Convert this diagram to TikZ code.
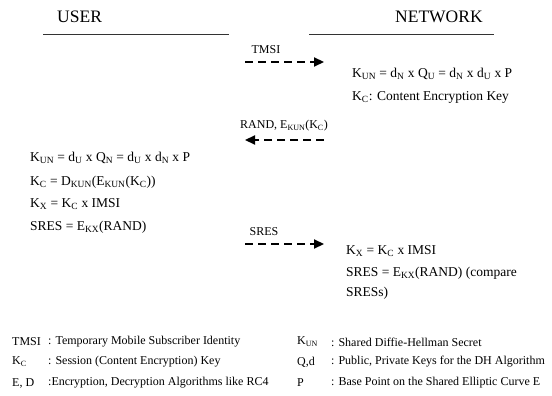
\documentclass[tikz,border=0pt]{standalone}
\usepackage{fontspec}
\setmainfont{Liberation Serif}
\usetikzlibrary{arrows.meta}
\newcommand{\sbs}[1]{\textsubscript{#1}}
\begin{document}
\begin{tikzpicture}[x=1pt,y=-1pt,
  hdr/.style={font=\fontsize{17.5}{20}\selectfont, anchor=west, inner sep=0pt},
  txt/.style={font=\fontsize{13.5}{16}\selectfont, anchor=west, inner sep=0pt},
  lbl/.style={font=\fontsize{12}{14}\selectfont, inner sep=0pt},
  leg/.style={font=\fontsize{12}{14}\selectfont, anchor=west, inner sep=0pt},
  rule/.style={line width=0.8pt, black!80},
  msg/.style={line width=2.2pt, dash pattern=on 8pt off 5pt, -{Triangle[length=10pt,width=9pt]}}
]
\useasboundingbox (0,0) rectangle (552,396);
% headers
\node[hdr] (user) at (57,17) {USER};
\node[hdr] (net) at (395,17) {NETWORK};
\coordinate (ul1) at (43,34); \coordinate (ul2) at (229,34);
\coordinate (nl1) at (309,34); \coordinate (nl2) at (494,34);
\draw[rule] (ul1) -- (ul2);
\draw[rule] (nl1) -- (nl2);
% message 1
\node[lbl] (tmsi) at (266,50) {TMSI};
\coordinate (m1s) at (245,62); \coordinate (m1e) at (324,62);
\draw[msg] (m1s) -- (m1e);
\node[txt] (n1) at (352,74) {K\sbs{UN} = d\sbs{N} x Q\sbs{U} = d\sbs{N} x d\sbs{U} x P};
\node[txt] (n2) at (352,97) {K\sbs{C}: Content Encryption Key};
% message 2
\node[lbl] (rand) at (284,126) {RAND, E\sbs{KUN}(K\sbs{C})};
\coordinate (m2s) at (324,140); \coordinate (m2e) at (245,140);
\draw[msg] (m2s) -- (m2e);
% user computations
\node[txt] (u1) at (30,158) {K\sbs{UN} = d\sbs{U} x Q\sbs{N} = d\sbs{U} x d\sbs{N} x P};
\node[txt] (u2) at (30,182) {K\sbs{C} = D\sbs{KUN}(E\sbs{KUN}(K\sbs{C}))};
\node[txt] (u3) at (30,204) {K\sbs{X} = K\sbs{C} x IMSI};
\node[txt] (u4) at (30,227) {SRES = E\sbs{KX}(RAND)};
% message 3
\node[lbl] (sres) at (264,232) {SRES};
\coordinate (m3s) at (245,244); \coordinate (m3e) at (324,244);
\draw[msg] (m3s) -- (m3e);
\node[txt] (n3) at (346,251) {K\sbs{X} = K\sbs{C} x IMSI};
\node[txt] (n4) at (346,273) {SRES = E\sbs{KX}(RAND) (compare};
\node[txt] (n5) at (346,293) {SRESs)};
% legend
\node[leg] (l1a) at (12,342) {TMSI};
\node[leg] (l1b) at (48,342) {: Temporary Mobile Subscriber Identity};
\node[leg] (l2a) at (12,362) {K\sbs{C}};
\node[leg] (l2b) at (48,362) {: Session (Content Encryption) Key};
\node[leg] (l3a) at (12,383) {E, D};
\node[leg] (l3b) at (48,383) {:Encryption, Decryption Algorithms like RC4};
\node[leg] (r1a) at (297,342) {K\sbs{UN}};
\node[leg] (r1b) at (331,342) {: Shared Diffie-Hellman Secret};
\node[leg] (r2a) at (297,362) {Q,d};
\node[leg] (r2b) at (331,362) {: Public, Private Keys for the DH Algorithm};
\node[leg] (r3a) at (297,383) {P};
\node[leg] (r3b) at (331,383) {: Base Point on the Shared Elliptic Curve E};
\end{tikzpicture}
\end{document}
